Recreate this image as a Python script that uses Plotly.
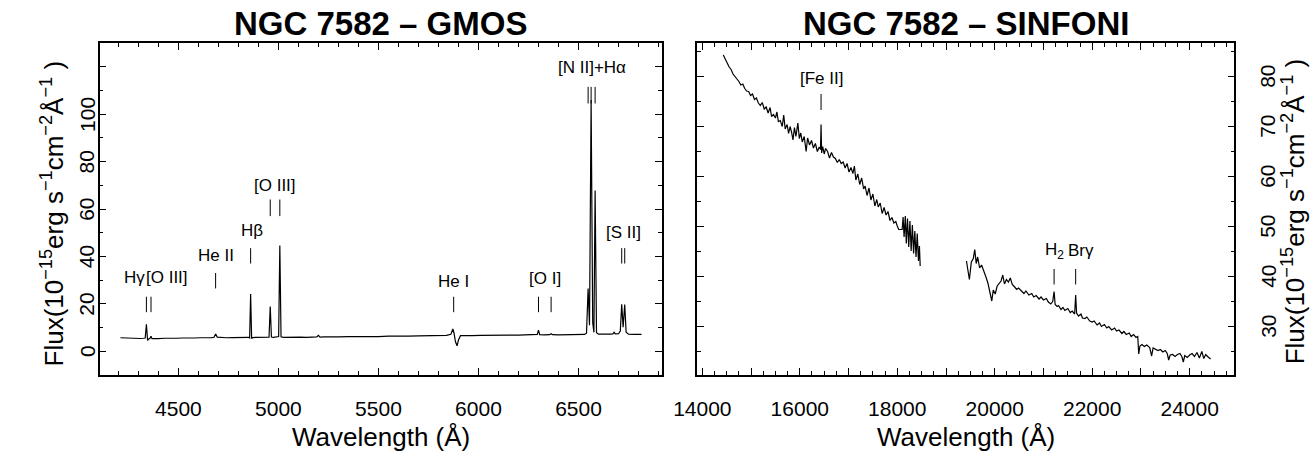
import plotly.graph_objects as go

W, H = 1314, 454
FONT = "Liberation Sans, Arial, sans-serif"

# ---------------- GMOS optical spectrum ----------------
gmos_wl = [4210, 4230, 4250, 4270, 4290, 4310, 4325, 4334, 4340, 4346, 4352, 4358, 4363, 4368,
           4380, 4400, 4430, 4460, 4490, 4520, 4550, 4580, 4610, 4640, 4665, 4678, 4686, 4694,
           4710, 4740, 4770, 4800, 4830, 4850, 4856, 4861, 4866, 4872, 4890, 4920, 4945, 4953,
           4959, 4965, 4975, 4990, 5001, 5007, 5013, 5025, 5050, 5080, 5110, 5140, 5170, 5192,
           5200, 5208, 5230, 5260, 5300, 5350, 5400, 5450, 5500, 5550, 5600, 5650, 5700, 5750,
           5800, 5840, 5862, 5872, 5878, 5885, 5893, 5900, 5910, 5930, 5970, 6010, 6050, 6100,
           6150, 6200, 6250, 6285, 6294, 6300, 6306, 6330, 6356, 6363, 6370, 6400, 6450, 6500,
           6530, 6540, 6548, 6555, 6563, 6571, 6577, 6583, 6590, 6600, 6630, 6660, 6672, 6678,
           6684, 6700, 6709, 6716, 6723, 6731, 6738, 6750, 6780, 6815]
gmos_flux = [5.7, 5.6, 5.7, 5.5, 5.6, 5.4, 5.5, 5.6, 11.4, 4.6, 5.2, 5.5, 6.3, 5.3,
             5.4, 5.3, 5.5, 5.4, 5.5, 5.6, 5.5, 5.6, 5.7, 5.6, 5.8, 5.9, 7.3, 6.0,
             5.8, 5.7, 5.8, 5.9, 5.8, 5.9, 5.6, 24.1, 5.4, 5.8, 5.9, 5.8, 5.9, 6.0,
             18.9, 6.0, 5.9, 6.0, 6.2, 44.6, 6.1, 5.9, 6.0, 5.9, 6.0, 5.9, 6.0, 6.1,
             6.7, 6.0, 6.1, 6.0, 6.1, 6.2, 6.1, 6.3, 6.2, 6.4, 6.3, 6.4, 6.5, 6.5,
             6.6, 6.7, 7.2, 9.4, 7.5, 4.0, 2.3, 4.8, 6.6, 6.7, 6.6, 6.7, 6.8, 6.7,
             6.8, 6.8, 6.9, 6.9, 7.1, 8.9, 7.0, 6.9, 7.0, 7.4, 7.0, 6.9, 7.0, 7.1,
             7.1, 7.6, 26.5, 11.0, 106.0, 12.0, 8.0, 67.8, 7.8, 7.2, 7.1, 7.2, 7.3, 8.0,
             7.3, 7.4, 8.5, 19.8, 10.2, 19.7, 8.0, 7.2, 7.1, 7.1]

gmos_label_text = ["Hγ", "[O III]", "He II", "Hβ", "[O III]", "He I", "[O I]", "[N II]+Hα", "[S II]"]
gmos_label_x = [4345, 4330, 4686, 4866, 4983, 5876, 6331, 6565, 6723]
gmos_label_y = [31, 31, 40.5, 51, 70, 29.5, 30.5, 119.5, 50]
gmos_label_anchor = ["right", "left", "center", "center", "center", "center", "center", "center", "center"]
gmos_mark_x = [4340, 4363, 4686, 4861, 4959, 5007, 5876, 6300, 6363, 6548, 6563, 6583, 6716, 6731]
gmos_mark_lo = [16.5, 16.5, 26.5, 37, 57, 57, 16.5, 16.5, 16.5, 104.5, 104.5, 104.5, 37, 37]
gmos_mark_hi = [23, 23, 33, 43.5, 64, 64, 23, 23, 23, 111.5, 111.5, 111.5, 43.5, 43.5]

# ---------------- SINFONI near-IR spectrum (gap between H and K bands) ----------------
sinf_wl = [14430, 14470, 14510, 14550, 14590, 14630, 14670, 14710, 14750, 14790, 14830, 14870,
           14910, 14950, 14990, 15030, 15070, 15110, 15150, 15190, 15230, 15270, 15310, 15350,
           15390, 15420, 15460, 15500, 15530, 15560, 15600, 15640, 15670, 15700, 15740, 15770,
           15800, 15830, 15860, 15890, 15920, 15960, 15990, 16020, 16050, 16090, 16130, 16160,
           16200, 16240, 16280, 16320, 16360, 16400, 16425, 16436, 16448, 16470, 16500, 16530,
           16570, 16610, 16650, 16690, 16730, 16770, 16810, 16850, 16890, 16930, 16970, 17010,
           17050, 17090, 17120, 17150, 17190, 17230, 17270, 17310, 17340, 17380, 17420, 17460,
           17500, 17540, 17580, 17610, 17650, 17690, 17730, 17770, 17810, 17850, 17890, 17930,
           17970, 18000, 18030, 18100, 18120, 18140, 18165, 18185, 18210, 18235, 18260, 18285,
           18310, 18335, 18360, 18385, 18410, 18435, 18455, 18470, None,
           19420, 19450, 19480, 19520, 19560, 19590, 19620, 19650, 19690, 19730, 19780, 19820,
           19860, 19900, 19940, 19970, 20010, 20050, 20090, 20130, 20165, 20200, 20240, 20280,
           20320, 20360, 20400, 20450, 20490, 20550, 20600, 20640, 20700, 20760, 20800, 20850,
           20910, 20950, 21000, 21060, 21100, 21150, 21190, 21218, 21240, 21280, 21310, 21360,
           21400, 21440, 21500, 21550, 21590, 21640, 21661, 21680, 21720, 21770, 21800, 21850,
           21890, 21950, 22000, 22040, 22100, 22150, 22190, 22250, 22300, 22340, 22400, 22460,
           22500, 22550, 22610, 22650, 22700, 22760, 22800, 22850, 22900, 22935, 22955, 22980,
           23020, 23070, 23120, 23180, 23220, 23250, 23300, 23350, 23400, 23450, 23500, 23540,
           23570, 23600, 23650, 23700, 23750, 23800, 23840, 23870, 23900, 23950, 24000, 24050,
           24100, 24150, 24200, 24250, 24290, 24330, 24380, 24430]
sinf_flux = [84.2, 83.2, 82.6, 81.8, 81.3, 80.4, 79.9, 79.6, 78.9, 78.2, 78.4, 77.5,
             77.0, 76.9, 76.1, 76.4, 75.3, 75.6, 74.6, 74.1, 74.7, 73.4, 73.8, 72.6,
             73.7, 71.9, 72.3, 71.6, 72.8, 70.9, 71.1, 69.9, 72.2, 69.4, 70.3, 68.5,
             69.9, 68.8, 67.2, 69.7, 67.9, 70.6, 67.5, 68.6, 66.8, 67.9, 64.9, 67.6,
             66.2, 67.1, 65.6, 66.5, 64.9, 65.8, 65.3, 70.3, 64.6, 65.9, 64.4, 65.5,
             64.9, 63.6, 64.7, 63.8, 63.5, 62.7, 63.3, 62.5, 62.8, 61.6, 62.5, 60.8,
             61.7, 60.5, 62.0, 59.2, 60.4, 58.3, 59.6, 57.4, 58.0, 56.1, 57.6, 55.2,
             56.4, 54.0, 55.3, 53.8, 54.6, 52.5, 53.7, 52.2, 52.9, 51.1, 51.7, 50.6,
             50.9, 50.0, 49.3, 49.3, 51.8, 47.8, 52.0, 46.5, 51.5, 45.8, 51.0, 45.0,
             50.2, 44.5, 49.0, 43.8, 48.5, 43.0, 46.0, 42.0, None,
             43.0, 41.5, 39.3, 42.8, 43.5, 45.3, 42.5, 43.8, 41.6, 42.2, 40.6, 39.8,
             38.6, 36.8, 35.0, 37.2, 36.4, 38.0, 38.6, 39.0, 40.2, 38.4, 39.3, 38.8,
             39.6, 38.3, 37.9, 37.3, 37.6, 37.0, 36.5, 37.0, 36.2, 36.5, 35.8, 36.1,
             35.4, 35.8, 35.2, 35.5, 34.8, 34.4, 34.9, 36.9, 34.3, 33.9, 34.1, 33.3,
             33.7, 33.1, 33.5, 32.7, 33.0, 32.4, 36.2, 32.6, 32.0, 32.4, 31.6, 31.5,
             31.8, 31.0, 30.8, 31.0, 30.2, 30.6, 29.9, 30.3, 29.6, 29.9, 29.2, 29.6,
             29.0, 29.2, 28.5, 28.9, 28.3, 28.6, 27.9, 28.3, 27.7, 27.9, 24.4, 26.0,
             26.3, 25.9, 26.2, 25.7, 24.0, 25.6, 25.3, 25.1, 25.3, 24.8, 25.1, 24.5,
             23.2, 24.2, 24.3, 23.9, 24.3, 24.5, 23.9, 22.8, 24.1, 23.7, 24.2, 24.5,
             23.9, 24.7, 23.6, 24.9, 23.5, 24.3, 23.8, 23.4]

sinf_label_text = ["[Fe II]", "H<sub>2</sub>", "Brγ"]
sinf_label_x = [16436, 21218, 21780]
sinf_label_y = [79.5, 45, 45]
sinf_mark_x = [16436, 21218, 21661]
sinf_mark_lo = [73.2, 38.3, 38.3]
sinf_mark_hi = [76.4, 41.4, 41.4]

# axis ticks
gmos_xticks = [4500, 5000, 5500, 6000, 6500]
gmos_yticks = [0, 20, 40, 60, 80, 100, 120]
gmos_ylabels = [0, 20, 40, 60, 80, 100]
sinf_xticks = [14000, 15000, 16000, 17000, 18000, 19000, 20000, 21000, 22000, 23000, 24000]
sinf_xticktext = ["14000", "", "16000", "", "18000", "", "20000", "", "22000", "", "24000"]
sinf_yticks = [30, 40, 50, 60, 70, 80]

# pixel frame of each panel
L_X0, L_X1 = 77, 650
R_X0, R_X1 = 686, 1233
P_Y0, P_Y1 = 43, 375


def px(x):
    return x / W


def py(y):
    return 1 - y / H


def segments(xs, lo, hi):
    sx, sy = [], []
    for x, a, b in zip(xs, lo, hi):
        sx += [x, x, None]
        sy += [a, b, None]
    return sx, sy


fig = go.Figure()
line_style = dict(color="black", width=1.2)
fig.add_trace(go.Scatter(x=gmos_wl, y=gmos_flux, mode="lines", line=line_style,
                         xaxis="x", yaxis="y", showlegend=False, hoverinfo="skip"))
fig.add_trace(go.Scatter(x=sinf_wl, y=sinf_flux, mode="lines", line=line_style,
                         xaxis="x2", yaxis="y2", showlegend=False, hoverinfo="skip",
                         connectgaps=False))

mx, my = segments(gmos_mark_x, gmos_mark_lo, gmos_mark_hi)
fig.add_trace(go.Scatter(x=mx, y=my, mode="lines", line=dict(color="black", width=1),
                         xaxis="x", yaxis="y", showlegend=False, hoverinfo="skip"))
mx, my = segments(sinf_mark_x, sinf_mark_lo, sinf_mark_hi)
fig.add_trace(go.Scatter(x=mx, y=my, mode="lines", line=dict(color="black", width=1),
                         xaxis="x2", yaxis="y2", showlegend=False, hoverinfo="skip"))

label_font = dict(family=FONT, size=17, color="black")
annotations = []
for t, x, y, a in zip(gmos_label_text, gmos_label_x, gmos_label_y, gmos_label_anchor):
    annotations.append(dict(text=t, x=x, y=y, xref="x", yref="y", xanchor=a, yanchor="middle",
                            showarrow=False, font=label_font))
for t, x, y in zip(sinf_label_text, sinf_label_x, sinf_label_y):
    annotations.append(dict(text=t, x=x, y=y, xref="x2", yref="y2", xanchor="center",
                            yanchor="middle", showarrow=False, font=label_font))

# rotated y tick labels, placed on the axis scale
tick_font = dict(family=FONT, size=21, color="black")
for v in gmos_ylabels:
    annotations.append(dict(text=str(v), x=px(64), y=v, xref="paper", yref="y", textangle=-90,
                            xanchor="center", yanchor="middle", showarrow=False, font=tick_font))
for v in sinf_yticks:
    annotations.append(dict(text=str(v), x=px(1267), y=v, xref="paper", yref="y2", textangle=-90,
                            xanchor="center", yanchor="middle", showarrow=False, font=tick_font))

title_font = dict(family=FONT, size=33, color="black")
annotations += [
    dict(text="<b>NGC 7582 – GMOS</b>", x=px((L_X0 + L_X1) / 2), y=py(24), xref="paper", yref="paper",
         xanchor="center", yanchor="middle", showarrow=False, font=title_font),
    dict(text="<b>NGC 7582 – SINFONI</b>", x=px((R_X0 + R_X1) / 2), y=py(24), xref="paper",
         yref="paper", xanchor="center", yanchor="middle", showarrow=False, font=title_font),
]

axis_title_font = dict(family=FONT, size=26, color="black")
flux_title = "Flux(10<sup>−15</sup>erg s<sup>−1</sup>cm<sup>−2</sup>Å<sup>−1</sup> )"
annotations += [
    dict(text="Wavelength (Å)", x=px((L_X0 + L_X1) / 2), y=py(437), xref="paper", yref="paper",
         xanchor="center", yanchor="middle", showarrow=False, font=axis_title_font),
    dict(text="Wavelength (Å)", x=px((R_X0 + R_X1) / 2), y=py(437), xref="paper", yref="paper",
         xanchor="center", yanchor="middle", showarrow=False, font=axis_title_font),
    dict(text=flux_title, x=px(29), y=py(213), xref="paper", yref="paper", textangle=-90,
         xanchor="center", yanchor="middle", showarrow=False, font=axis_title_font),
    dict(text=flux_title, x=px(1294), y=py(211), xref="paper", yref="paper", textangle=-90,
         xanchor="center", yanchor="middle", showarrow=False, font=axis_title_font),
]

common = dict(showline=True, linecolor="black", linewidth=1.5, mirror="allticks",
              ticks="inside", ticklen=7, tickwidth=1.2, tickcolor="black",
              showgrid=False, zeroline=False, tickfont=tick_font)

fig.update_layout(
    width=W, height=H, margin=dict(l=0, r=0, t=0, b=0),
    paper_bgcolor="white", plot_bgcolor="white",
    xaxis=dict(domain=[px(L_X0), px(L_X1)], range=[4106, 6918], anchor="y",
               tickmode="array", tickvals=gmos_xticks, ticktext=[str(v) for v in gmos_xticks],
               minor=dict(tickmode="linear", tick0=0, dtick=100, ticks="inside", ticklen=4,
                          tickcolor="black", tickwidth=1),
               ticklabelstandoff=14, **common),
    yaxis=dict(domain=[py(P_Y1), py(P_Y0)], range=[-10, 130], anchor="x",
               tickmode="array", tickvals=gmos_yticks, showticklabels=False,
               minor=dict(tickmode="linear", tick0=0, dtick=10, ticks="inside", ticklen=4,
                          tickcolor="black", tickwidth=1),
               **common),
    xaxis2=dict(domain=[px(R_X0), px(R_X1)], range=[13900, 24920], anchor="y2",
                tickmode="array", tickvals=sinf_xticks, ticktext=sinf_xticktext,
                minor=dict(tickmode="linear", tick0=0, dtick=250, ticks="inside", ticklen=4,
                           tickcolor="black", tickwidth=1),
                ticklabelstandoff=14, **common),
    yaxis2=dict(domain=[py(P_Y1), py(P_Y0)], range=[20.2, 86.6], anchor="x2", side="right",
                tickmode="array", tickvals=sinf_yticks, showticklabels=False,
                minor=dict(tickmode="linear", tick0=0, dtick=5, ticks="inside", ticklen=4,
                           tickcolor="black", tickwidth=1),
                **common),
    annotations=annotations,
)

fig.write_html("out.html")
